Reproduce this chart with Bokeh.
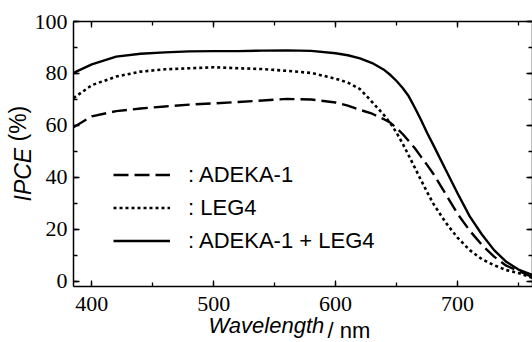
from bokeh.plotting import figure
from bokeh.models import LinearAxis, SingleIntervalTicker, FixedTicker, Range1d, Legend, Title
from bokeh.embed import file_html
from bokeh.resources import INLINE

# ---- data ----
wavelength = [385, 400, 420, 440, 460, 480, 500, 520, 540, 560, 580, 600, 610, 620,
              630, 640, 645, 650, 655, 660, 665, 670, 675, 680, 690, 700, 710, 720, 730, 740, 750, 762]
ipce_adeka = [59.3, 63.5, 65.5, 66.5, 67.3, 68.0, 68.5, 69.0, 69.6, 70.2, 70.0, 68.8, 67.6, 66.0,
              64.5, 62.3, 61.0, 59.0, 56.7, 54.0, 51.2, 48.0, 44.8, 41.5, 33.8, 26.0, 19.5, 14.0, 9.5, 6.0, 4.0, 1.5]
ipce_leg4 = [70.5, 75.5, 78.8, 80.7, 81.6, 82.0, 82.4, 82.0, 81.7, 81.0, 80.2, 78.0, 76.5, 74.0,
             69.0, 63.8, 60.8, 57.2, 53.0, 48.4, 43.7, 39.0, 34.4, 30.0, 22.8, 16.8, 12.0, 8.5, 6.2, 4.3, 3.2, 1.2]
ipce_both = [80.2, 83.5, 86.5, 87.6, 88.1, 88.5, 88.6, 88.6, 88.8, 88.9, 88.7, 87.8, 87.0, 85.8,
             84.0, 81.3, 79.4, 77.1, 74.4, 71.2, 66.8, 62.2, 57.2, 52.6, 43.2, 33.9, 25.0, 18.0, 12.0, 7.5, 4.5, 2.3]
series_labels = [": ADEKA-1", ": LEG4", ": ADEKA-1 + LEG4"]
x_title = ["Wavelength", "/ nm"]
y_title = ["IPCE", "(%)"]

p = figure(width=532, height=342, output_backend="svg", toolbar_location=None,
           x_range=Range1d(385, 761.5), y_range=Range1d(-2, 100),
           x_axis_location=None, y_axis_location=None,
           min_border_left=73, min_border_right=0, min_border_top=21, min_border_bottom=56,
           background_fill_color="white", border_fill_color="white")
p.outline_line_color = None
p.grid.visible = False
p.title.visible = False


def make_axis(interval, labels):
    ax = LinearAxis(ticker=SingleIntervalTicker(interval=interval, num_minor_ticks=2))
    ax.major_tick_in = 6
    ax.major_tick_out = 0
    ax.minor_tick_in = 4
    ax.minor_tick_out = 0
    ax.axis_line_width = 1.5
    ax.axis_line_color = "black"
    ax.major_tick_line_color = "black"
    ax.minor_tick_line_color = "black"
    ax.major_tick_line_width = 1.3
    ax.minor_tick_line_width = 1.3
    if labels:
        ax.major_label_text_font = "Liberation Serif"
        ax.major_label_text_font_size = "22px"
        ax.major_label_text_color = "black"
    else:
        ax.major_label_text_font_size = "0px"
        ax.major_label_text_alpha = 0
        ax.major_label_standoff = 0
    return ax


def spacer(px, tick):
    # invisible axis that only reserves room between the tick labels and the title
    ax = LinearAxis(ticker=FixedTicker(ticks=[tick], minor_ticks=[]))
    ax.axis_line_color = None
    ax.major_tick_line_color = None
    ax.minor_tick_line_color = None
    ax.major_tick_in = 0
    ax.major_tick_out = px
    ax.minor_tick_in = 0
    ax.minor_tick_out = 0
    ax.major_label_standoff = 0
    ax.major_label_text_font_size = "0px"
    ax.major_label_text_alpha = 0
    return ax


def title_piece(text, italic, offset, valign, size, standoff):
    return Title(text=text, align="left", offset=offset, vertical_align=valign,
                 standoff=standoff, text_font="Liberation Sans", text_font_size=size,
                 text_font_style="italic" if italic else "normal", text_color="black")


xb = make_axis(100, True)
xb.major_label_standoff = 10
yl = make_axis(20, True)
yl.major_label_standoff = 6
p.add_layout(xb, "below")
p.add_layout(yl, "left")
p.add_layout(make_axis(100, False), "above")
p.add_layout(make_axis(20, False), "right")

p.add_layout(spacer(7, 500), "below")
p.add_layout(title_piece(x_title[0], True, 135, "bottom", "22px", -20), "below")
p.add_layout(title_piece(x_title[1], False, 254, "top", "22px", -20), "below")

p.add_layout(spacer(4, 50), "left")
p.add_layout(title_piece(y_title[0], True, 85, "top", "23px", -21), "left")
p.add_layout(title_piece(y_title[1], False, 145, "bottom", "23px", -21), "left")

r1 = p.line(wavelength, ipce_adeka, line_color="black", line_width=2.4, line_dash="15 6")
r2 = p.line(wavelength, ipce_leg4, line_color="black", line_width=2.6, line_dash="3 3")
r3 = p.line(wavelength, ipce_both, line_color="black", line_width=2.4)

legend = Legend(items=[(series_labels[0], [r1]), (series_labels[1], [r2]), (series_labels[2], [r3])],
                location=(40, 29), padding=0, margin=0, spacing=0,
                glyph_width=57, glyph_height=33, label_standoff=18,
                label_text_font="Liberation Sans", label_text_font_size="22px",
                label_text_color="black",
                border_line_color=None, background_fill_alpha=0)
p.add_layout(legend)

open("out.html", "w").write(file_html(p, INLINE))
